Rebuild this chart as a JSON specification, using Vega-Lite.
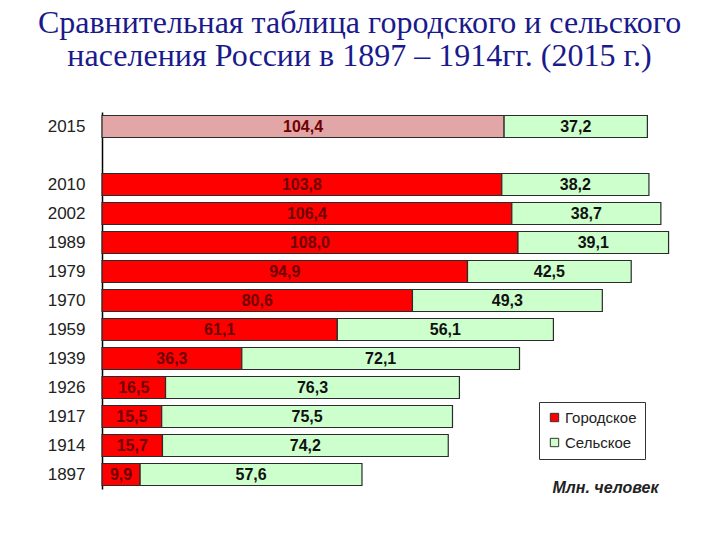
{
  "$schema": "https://vega.github.io/schema/vega-lite/v6.json",
  "width": 597,
  "height": 377,
  "autosize": {"type": "none"},
  "padding": {"left": 102, "top": 112, "right": 21, "bottom": 51},
  "background": "white",
  "title": {
    "text": ["Сравнительная таблица городского и сельского", "населения России в 1897 – 1914гг. (2015 г.)"],
    "font": "Liberation Serif",
    "fontSize": 32,
    "fontWeight": "normal",
    "color": "#1a1a8c",
    "anchor": "middle",
    "frame": "group",
    "dx": -41,
    "offset": 39,
    "lineHeight": 33
  },
  "data": {
    "values": [
      {"year": "2015", "type": "Городское", "value": 104.4},
      {"year": "2015", "type": "Сельское", "value": 37.2},
      {"year": "2010", "type": "Городское", "value": 103.8},
      {"year": "2010", "type": "Сельское", "value": 38.2},
      {"year": "2002", "type": "Городское", "value": 106.4},
      {"year": "2002", "type": "Сельское", "value": 38.7},
      {"year": "1989", "type": "Городское", "value": 108.0},
      {"year": "1989", "type": "Сельское", "value": 39.1},
      {"year": "1979", "type": "Городское", "value": 94.9},
      {"year": "1979", "type": "Сельское", "value": 42.5},
      {"year": "1970", "type": "Городское", "value": 80.6},
      {"year": "1970", "type": "Сельское", "value": 49.3},
      {"year": "1959", "type": "Городское", "value": 61.1},
      {"year": "1959", "type": "Сельское", "value": 56.1},
      {"year": "1939", "type": "Городское", "value": 36.3},
      {"year": "1939", "type": "Сельское", "value": 72.1},
      {"year": "1926", "type": "Городское", "value": 16.5},
      {"year": "1926", "type": "Сельское", "value": 76.3},
      {"year": "1917", "type": "Городское", "value": 15.5},
      {"year": "1917", "type": "Сельское", "value": 75.5},
      {"year": "1914", "type": "Городское", "value": 15.7},
      {"year": "1914", "type": "Сельское", "value": 74.2},
      {"year": "1897", "type": "Городское", "value": 9.9},
      {"year": "1897", "type": "Сельское", "value": 57.6}
    ]
  },
  "encoding": {
    "y": {
      "field": "year",
      "type": "nominal",
      "scale": {
        "domain": ["2015", " ", "2010", "2002", "1989", "1979", "1970", "1959", "1939", "1926", "1917", "1914", "1897"],
        "paddingInner": 0.24,
        "paddingOuter": 0.12
      },
      "axis": {
        "title": null,
        "domainColor": "#000000",
        "domainWidth": 1.5,
        "ticks": false,
        "labelFont": "Liberation Sans",
        "labelFontSize": 17,
        "labelColor": "#222222",
        "labelPadding": 17
      }
    }
  },
  "layer": [
    {
      "mark": {"type": "bar", "stroke": "#2b2b2b", "strokeWidth": 1.2},
      "encoding": {
        "x": {
          "field": "value",
          "type": "quantitative",
          "stack": "zero",
          "scale": {"domain": [0, 155], "nice": false},
          "axis": {
            "domain": false,
            "ticks": false,
            "labels": false,
            "grid": false,
            "title": "Млн. человек",
            "titleFont": "Liberation Sans",
            "titleFontSize": 16,
            "titleFontStyle": "italic",
            "titleFontWeight": "bold",
            "titleColor": "#222222",
            "titleX": 503,
            "titleY": -2,
            "titleAlign": "center",
            "titleBaseline": "middle"
          }
        },
        "order": {"field": "type", "sort": "ascending"},
        "color": {
          "condition": {"test": "datum.year === '2015' && datum.type === 'Городское'", "value": "#e2a6a6"},
          "field": "type",
          "type": "nominal",
          "scale": {"domain": ["Городское", "Сельское"], "range": ["#ff0000", "#ccffcc"]},
          "legend": {
            "title": null,
            "orient": "none",
            "legendX": 437,
            "legendY": 290,
            "direction": "vertical",
            "strokeColor": "#333333",
            "fillColor": "white",
            "padding": 8,
            "symbolType": "square",
            "symbolSize": 70,
            "symbolStrokeColor": "#333333",
            "symbolStrokeWidth": 1,
            "labelFont": "Liberation Sans",
            "labelFontSize": 15,
            "labelColor": "#222222",
            "rowPadding": 9,
            "labelOffset": 3
          }
        }
      }
    },
    {
      "mark": {"type": "text", "font": "Liberation Sans", "fontSize": 16, "fontWeight": "bold", "align": "center", "baseline": "middle"},
      "encoding": {
        "x": {"field": "value", "type": "quantitative", "stack": "zero", "bandPosition": 0.5},
        "detail": {"field": "type"},
        "order": {"field": "type", "sort": "ascending"},
        "text": {"field": "value", "type": "quantitative", "format": ".1f"},
        "color": {
          "condition": {"test": "datum.type === 'Городское'", "value": "#6e0000"},
          "value": "#111111"
        }
      }
    }
  ],
  "config": {
    "locale": {
      "number": {"decimal": ",", "thousands": " ", "grouping": [3], "currency": ["", " ₽"]}
    },
    "view": {"stroke": null}
  }
}
